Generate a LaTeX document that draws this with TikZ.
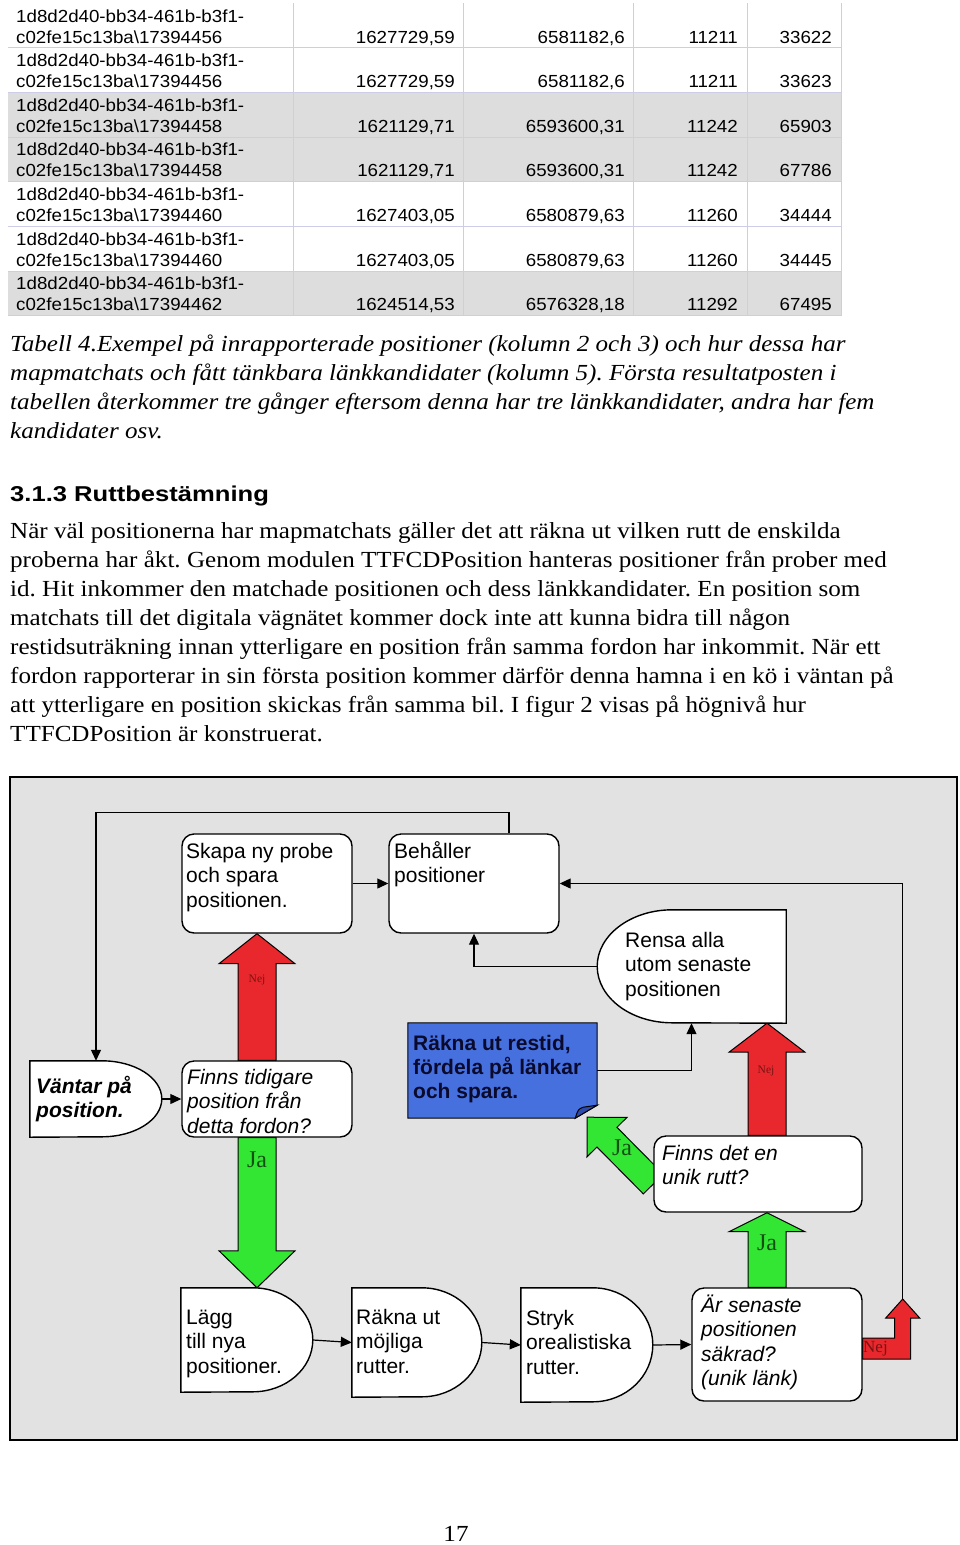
\documentclass[tikz,border=0pt]{standalone}
\usepackage{fontspec}
\setmainfont{Liberation Serif}
\setsansfont{Liberation Sans}
\newfontfamily\bodyfont[FakeStretch=1.09]{Liberation Serif}
\newfontfamily\headfont[FakeStretch=1.19]{Liberation Sans}
\newfontfamily\tablefont[FakeStretch=1.07]{Liberation Sans}
\usepackage{tikz}
\usetikzlibrary{arrows.meta, calc}
\frenchspacing

\definecolor{rowgrey}{RGB}{221,221,221}
\definecolor{gridline}{RGB}{205,205,232}
\definecolor{panelgrey}{RGB}{226,226,226}
\definecolor{nejred}{RGB}{232,40,44}
\definecolor{jagreen}{RGB}{52,230,52}
\definecolor{restidblue}{RGB}{70,112,222}
\definecolor{restidfold}{RGB}{45,75,170}
\definecolor{navytext}{RGB}{10,10,45}
\definecolor{nejtext}{RGB}{120,20,20}
\definecolor{jatext}{RGB}{20,80,20}

\pgfdeclarelayer{panel}
\pgfdeclarelayer{blocks}
\pgfsetlayers{panel,blocks,main}

% block arrow: tail, tip, head length, half shaft, half head, style
\newcommand{\blockarrow}[6]{%
  \draw[#6] let \p1=(#1), \p2=(#2), \n1={veclen(\x2-\x1,\y2-\y1)},
      \n2={(\x2-\x1)/\n1}, \n3={(\y2-\y1)/\n1} in
    ({\x1-#4*\n3},{\y1+#4*\n2}) -- ({\x2-#3*\n2-#4*\n3},{\y2-#3*\n3+#4*\n2})
    -- ({\x2-#3*\n2-#5*\n3},{\y2-#3*\n3+#5*\n2}) -- (\p2)
    -- ({\x2-#3*\n2+#5*\n3},{\y2-#3*\n3-#5*\n2})
    -- ({\x2-#3*\n2+#4*\n3},{\y2-#3*\n3-#4*\n2})
    -- ({\x1+#4*\n3},{\y1-#4*\n2}) -- cycle;}

\begin{document}
\begin{tikzpicture}[x=1pt, y=-1pt,
    celltext/.style={font=\tablefont\fontsize{17.5}{20}\selectfont, inner sep=0pt},
    bodytext/.style={font=\bodyfont\fontsize{23}{29}\selectfont, anchor=base west, inner sep=0pt},
    captext/.style={bodytext, font=\bodyfont\itshape\fontsize{23}{29}\selectfont},
    box/.style={draw, line width=1.4pt, fill=white, rounded corners=12pt, inner sep=0pt},
    holder/.style={inner sep=0pt},
    shapeline/.style={draw, line width=1.4pt, fill=white},
    boxtext/.style={font=\sffamily\fontsize{21}{24.5}\selectfont, align=left, anchor=base west, inner sep=0pt},
    link/.style={line width=1.2pt, -{Triangle[length=11pt,width=10pt]}},
    nejarrow/.style={draw=black, line width=1pt, fill=nejred},
    jaarrow/.style={draw=black, line width=1pt, fill=jagreen},
    nejlabel/.style={font=\rmfamily\fontsize{11.5}{12}\selectfont, text=nejtext, inner sep=0pt},
    jalabel/.style={font=\rmfamily\fontsize{24}{24}\selectfont, text=jatext, inner sep=0pt}]
    \useasboundingbox (0,0) rectangle (960,1545);

    % table 4
    \foreach \row in {2,3,6}
        \fill[rowgrey] (8,{3+44.65*\row}) rectangle (841,{3+44.65*(\row+1)});
    \foreach \cx in {293,463,633,747,841}
        \draw[gridline] (\cx,3) -- (\cx,316);
    \foreach \row in {1,...,7}
        \draw[gridline] (8,{3+44.65*\row}) -- (841,{3+44.65*\row});
    \foreach \probe/\xc/\yc/\lnk/\cnd [count=\row from 0] in {
            17394456/{1627729,59}/{6581182,6}/11211/33622,
            17394456/{1627729,59}/{6581182,6}/11211/33623,
            17394458/{1621129,71}/{6593600,31}/11242/65903,
            17394458/{1621129,71}/{6593600,31}/11242/67786,
            17394460/{1627403,05}/{6580879,63}/11260/34444,
            17394460/{1627403,05}/{6580879,63}/11260/34445,
            17394462/{1624514,53}/{6576328,18}/11292/67495} {
        \node[celltext, anchor=base west] (id\row-a) at (16,{22+44.65*\row}) {1d8d2d40-bb34-461b-b3f1-};
        \node[celltext, anchor=base west] (id\row-b) at (16,{43+44.65*\row}) {c02fe15c13ba\textbackslash\probe};
        \node[celltext, anchor=base east] (xc\row) at (455,{43+44.65*\row}) {\xc};
        \node[celltext, anchor=base east] (yc\row) at (625,{43+44.65*\row}) {\yc};
        \node[celltext, anchor=base east] (lnk\row) at (738,{43+44.65*\row}) {\lnk};
        \node[celltext, anchor=base east] (cnd\row) at (832,{43+44.65*\row}) {\cnd};
    }

    % caption
    \foreach \ln [count=\k from 0] in {
            Tabell 4.Exempel på inrapporterade positioner (kolumn 2 och 3) och hur dessa har,
            mapmatchats och fått tänkbara länkkandidater (kolumn 5). Första resultatposten i,
            {tabellen återkommer tre gånger eftersom denna har tre länkkandidater, andra har fem},
            kandidater osv.}
        \node[captext] (cap\k) at (10,{351+29*\k}) {\ln};

    % section text
    \node[anchor=base west, inner sep=0pt, font=\headfont\bfseries\fontsize{21.5}{25}\selectfont] (heading) at (10,501) {3.1.3 Ruttbestämning};
    \foreach \ln [count=\k from 0] in {
            När väl positionerna har mapmatchats gäller det att räkna ut vilken rutt de enskilda,
            proberna har åkt. Genom modulen TTFCDPosition hanteras positioner från prober med,
            id. Hit inkommer den matchade positionen och dess länkkandidater. En position som,
            matchats till det digitala vägnätet kommer dock inte att kunna bidra till någon,
            restidsuträkning innan ytterligare en position från samma fordon har inkommit. När ett,
            fordon rapporterar in sin första position kommer därför denna hamna i en kö i väntan på,
            att ytterligare en position skickas från samma bil. I figur 2 visas på högnivå hur,
            TTFCDPosition är konstruerat.}
        \node[bodytext] (body\k) at (10,{538+29*\k}) {\ln};

    % figure 2: panel
    \begin{pgfonlayer}{panel}
        \draw[line width=1.8pt, fill=panelgrey] (10,777) rectangle (957,1440);
    \end{pgfonlayer}

    % top row (text nodes sit on their last baseline)
    \node[box, minimum width=170pt, minimum height=99pt] (skapa) at (267,883.5) {};
    \node[boxtext] (skapa-txt) at (186,907) {Skapa ny probe\\och spara\\positionen.};
    \node[box, minimum width=170pt, minimum height=99pt] (behall) at (474,883.5) {};
    \node[boxtext] (behall-txt) at (394,882.5) {Behåller\\positioner};
    \node[holder, minimum width=189pt, minimum height=113pt] (rensa) at (691.5,966.5) {};
    \draw[shapeline] (rensa.north east) -- ++(-114,0)
        arc[start angle=270, end angle=90, x radius=75, y radius=56.5] -- (rensa.south east) -- cycle;
    \node[boxtext] (rensa-txt) at (625,996) {Rensa alla\\utom senaste\\positionen};

    % middle row
    \node[holder, minimum width=132pt, minimum height=76pt] (vantar) at (96,1099) {};
    \draw[shapeline] (vantar.north west) -- ++(72,0)
        arc[start angle=-90, end angle=90, x radius=60, y radius=38] -- (vantar.south west) -- cycle;
    \node[boxtext, font=\sffamily\bfseries\itshape\fontsize{21}{24}\selectfont] (vantar-txt) at (36,1117) {Väntar på\\position.};
    \node[box, minimum width=170pt, minimum height=76pt] (finns1) at (267,1099) {};
    \node[boxtext, font=\sffamily\itshape\fontsize{21}{24.5}\selectfont] (finns1-txt) at (187,1133) {Finns tidigare\\position från\\detta fordon?};
    \node[holder, minimum width=189pt, minimum height=95pt] (rakna1) at (502.5,1070.5) {};
    \draw[line width=1pt, fill=restidblue] (rakna1.north west) -- (rakna1.north east)
        -- ([yshift=13pt]rakna1.south east) -- ([xshift=-22pt]rakna1.south east) -- (rakna1.south west) -- cycle;
    \draw[line width=1pt, fill=restidfold] ([xshift=-22pt]rakna1.south east) .. controls ([xshift=-19pt,yshift=9pt]rakna1.south east) .. ([xshift=-14pt,yshift=11pt]rakna1.south east)
        -- ([yshift=13pt]rakna1.south east) -- cycle;
    \node[boxtext, font=\sffamily\bfseries\fontsize{21}{24}\selectfont, text=navytext] (rakna1-txt) at (413,1098) {Räkna ut restid,\\fördela på länkar\\och spara.};
    \node[box, minimum width=208pt, minimum height=76pt] (finns2) at (758,1174) {};
    \node[boxtext, font=\sffamily\itshape\fontsize{21}{24.5}\selectfont] (finns2-txt) at (662,1184.5) {Finns det en\\unik rutt?};

    % bottom row
    \node[holder, minimum width=132pt, minimum height=104pt] (lagg) at (247,1340) {};
    \draw[shapeline] (lagg.north west) -- ++(72,0)
        arc[start angle=-90, end angle=90, x radius=60, y radius=52] -- (lagg.south west) -- cycle;
    \node[boxtext] (lagg-txt) at (186,1373) {Lägg\\till nya\\positioner.};
    \node[holder, minimum width=130pt, minimum height=109pt] (rakna2) at (417,1342.5) {};
    \draw[shapeline] (rakna2.north west) -- ++(70,0)
        arc[start angle=-90, end angle=90, x radius=60, y radius=54.5] -- (rakna2.south west) -- cycle;
    \node[boxtext] (rakna2-txt) at (356,1373) {Räkna ut\\möjliga\\rutter.};
    \node[holder, minimum width=132pt, minimum height=114pt] (stryk) at (587,1345) {};
    \draw[shapeline] (stryk.north west) -- ++(72,0)
        arc[start angle=-90, end angle=90, x radius=60, y radius=57] -- (stryk.south west) -- cycle;
    \node[boxtext] (stryk-txt) at (526,1374) {Stryk\\orealistiska\\rutter.};
    \node[box, minimum width=170pt, minimum height=113pt] (sakrad) at (777,1344.5) {};
    \node[boxtext, font=\sffamily\itshape\fontsize{21}{24.5}\selectfont] (sakrad-txt) at (701,1385.5) {Är senaste\\positionen\\säkrad?\\(unik länk)};

    % block arrows
    \coordinate (nej1-tail) at ([xshift=-10pt]finns1.north);
    \coordinate (nej1-tip) at ([xshift=-10pt]skapa.south);
    \coordinate (ja1-tail) at ([xshift=-10pt]finns1.south);
    \coordinate (ja1-tip) at ([xshift=10pt]lagg.north);
    \coordinate (nej2-tail) at ([xshift=9pt]finns2.north);
    \coordinate (nej2-tip) at ([xshift=75.5pt]rensa.south);
    \coordinate (ja2-tail) at ([yshift=-10pt]finns2.west);
    \coordinate (ja2-tip) at ([xshift=-10pt,yshift=1pt]rakna1.south east);
    \coordinate (ja3-tail) at ([xshift=-10pt]sakrad.north);
    \coordinate (ja3-tip) at ([xshift=9pt]finns2.south);
    \coordinate (nej3-tip) at ([xshift=40pt,yshift=45.5pt]sakrad.east);
    \begin{pgfonlayer}{blocks}
        \blockarrow{nej1-tail}{nej1-tip}{30}{19}{38}{nejarrow}
        \blockarrow{ja1-tail}{ja1-tip}{37}{19}{38}{jaarrow}
        \blockarrow{nej2-tail}{nej2-tip}{29}{19}{38}{nejarrow}
        \blockarrow{ja2-tail}{ja2-tip}{28}{14}{28}{jaarrow}
        \blockarrow{ja3-tail}{ja3-tip}{19}{19}{38}{jaarrow}
        \draw[nejarrow] ([yshift=6.5pt]sakrad.east) -- ++(32,0) -- ++(0,-20) -- ++(-9,0) -- (nej3-tip)
            -- ++(17,19) -- ++(-9,0) -- ++(0,41) -- ++(-48,0) -- cycle;
    \end{pgfonlayer}
    \node[nejlabel] (nej1-lbl) at (257,980) {Nej};
    \node[jalabel] (ja1-lbl) at (257,1160) {Ja};
    \node[nejlabel] (nej2-lbl) at (766,1071) {Nej};
    \node[jalabel] (ja2-lbl) at (622,1148) {Ja};
    \node[jalabel] (ja3-lbl) at (767,1243) {Ja};
    \node[nejlabel, font=\rmfamily\fontsize{17}{17}\selectfont, anchor=west] (nej3-lbl) at (863,1349) {Nej};

    % links
    \draw[link] (skapa.east) -- (behall.west);
    \draw[link] ([xshift=35pt]behall.north) -- ++(0,-21) -| (vantar.north);
    \draw[link] (rensa.west) -| (behall.south);
    \draw[link] (vantar.east) -- (finns1.west);
    \draw[link] (rakna1.east) -| (rensa.south);
    \draw[link] (lagg.east) -- (rakna2.west);
    \draw[link] (rakna2.east) -- (stryk.west);
    \draw[link] (stryk.east) -- (sakrad.west);
    \draw[link] (nej3-tip) |- (behall.east);

    % page number
    \node[bodytext, anchor=base] (pageno) at (456,1541) {17};
\end{tikzpicture}
\end{document}
